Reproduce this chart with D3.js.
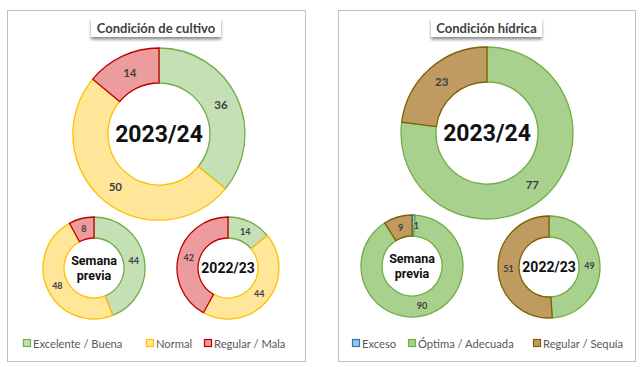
<!DOCTYPE html>
<html>
<head>
<meta charset="utf-8">
<script src="https://cdn.jsdelivr.net/npm/d3@7"></script>
<style>
  body { margin: 0; background: #fff; }
  svg { display: block; }
</style>
</head>
<body>
<div id="container"></div>
<script>
/* CONSTANTS AND GLOBALS */
const width = 640,
  height = 367;

/* DATA */
const cultivoCats = ["Excelente / Buena", "Normal", "Regular / Mala"];
const cultivoActual = [36, 50, 14];
const cultivoPrevia = [44, 48, 8];
const cultivoAnterior = [14, 44, 42];

const hidricaCats = ["Exceso", "Óptima / Adecuada", "Regular / Sequía"];
const hidricaActual = [0, 77, 23];
const hidricaPrevia = [1, 90, 9];
const hidricaAnterior = [0, 49, 51];

const cultivoFill = ["#c5e0b4", "#ffe699", "#ec9c9c"];
const cultivoStroke = ["#70ad47", "#ffc000", "#c00000"];
const hidricaFill = ["#9dc3e6", "#a9d18e", "#bf9b62"];
const hidricaStroke = ["#2e75b6", "#70ad47", "#7f6000"];

const svg = d3.select("#container")
  .append("svg")
  .attr("width", width)
  .attr("height", height)

const defs = svg.append("defs")
defs.append("filter")
  .attr("id", "shadow")
  .attr("x", "-20%").attr("y", "-30%").attr("width", "140%").attr("height", "180%")
  .append("feDropShadow")
  .attr("dx", 0).attr("dy", 2.5).attr("stdDeviation", 1.5)
  .attr("flood-color", "#000").attr("flood-opacity", 0.45)

const pie = d3.pie().sort(null).value(d => d)

function donut(g, values, fills, strokes, cx, cy, rOut, rIn, opts) {
  const arc = d3.arc().innerRadius(rIn).outerRadius(rOut)
  const mid = d3.arc().innerRadius((rIn + rOut) / 2).outerRadius((rIn + rOut) / 2)
  const dg = g.append("g").attr("transform", `translate(${cx},${cy})`)
  const arcs = pie(values)
  dg.selectAll("path")
    .data(arcs.filter(d => d.value > 0))
    .join("path")
    .attr("d", arc)
    .attr("fill", d => fills[d.index])
    .attr("stroke", d => strokes[d.index])
    .attr("stroke-width", 1.3)
  dg.selectAll("text.val")
    .data(arcs.filter(d => d.value > 0))
    .join("text")
    .attr("class", "val")
    .attr("transform", d => {
      const [x, y] = mid.centroid(d)
      return `translate(${x + (d.value < 3 ? 3 : 0)},${y})`
    })
    .attr("text-anchor", "middle")
    .attr("dominant-baseline", "central")
    .attr("font-family", "Lato, sans-serif")
    .attr("font-weight", "bold")
    .attr("font-size", opts.valSize)
    .attr("fill", "#404040")
    .text(d => d.value)
  const lines = opts.center
  const t = dg.append("text")
    .attr("text-anchor", "middle")
    .attr("font-family", "Roboto, sans-serif")
    .attr("font-weight", "bold")
    .attr("font-size", opts.centerSize)
    .attr("fill", "#111")
  lines.forEach((l, i) => {
    t.append("tspan")
      .attr("x", 0)
      .attr("y", (i - (lines.length - 1) / 2) * opts.lineH)
      .attr("dominant-baseline", "central")
      .text(l)
  })
}

function panel(x0, x1, title, titleW, cats, series, fills, strokes, centers, legendXs) {
  const g = svg.append("g")
  g.append("rect")
    .attr("x", x0 + 0.5).attr("y", 10.5)
    .attr("width", x1 - x0).attr("height", 351)
    .attr("fill", "#fff").attr("stroke", "#bfbfbf")
  const mx = (x0 + x1) / 2
  g.append("rect")
    .attr("x", mx - titleW / 2).attr("y", 18)
    .attr("width", titleW).attr("height", 19)
    .attr("fill", "#fff")
    .attr("filter", "url(#shadow)")
  g.append("text")
    .attr("x", mx).attr("y", 27.5)
    .attr("text-anchor", "middle")
    .attr("dominant-baseline", "central")
    .attr("font-family", "Lato, sans-serif")
    .attr("font-weight", "bold")
    .attr("font-size", 13)
    .attr("fill", "#404040")
    .text(title)

  donut(g, series[0], fills, strokes, centers[0][0], centers[0][1], 86, 51,
    { center: ["2023/24"], centerSize: 23, lineH: 0, valSize: 11.5 })
  donut(g, series[1], fills, strokes, centers[1][0], centers[1][1], 51, 30,
    { center: ["Semana", "previa"], centerSize: 12.5, lineH: 15, valSize: 9 })
  donut(g, series[2], fills, strokes, centers[2][0], centers[2][1], 51, 30,
    { center: ["2022/23"], centerSize: 14, lineH: 0, valSize: 9 })

  const lg = g.selectAll("g.leg")
    .data(cats)
    .join("g")
    .attr("class", "leg")
    .attr("transform", (d, i) => `translate(${legendXs[i]},343)`)
  lg.append("rect")
    .attr("x", 0.5).attr("y", -3.5)
    .attr("width", 7).attr("height", 7)
    .attr("fill", (d, i) => fills[i])
    .attr("stroke", (d, i) => strokes[i])
    .attr("stroke-width", 1.2)
  lg.append("text")
    .attr("x", 10).attr("y", 0)
    .attr("dominant-baseline", "central")
    .attr("font-family", "Lato, sans-serif")
    .attr("font-size", 11.2)
    .attr("fill", "#595959")
    .text(d => d)
}

panel(7, 305, "Condición  de cultivo", 130, cultivoCats,
  [cultivoActual, cultivoPrevia, cultivoAnterior], cultivoFill, cultivoStroke,
  [[159, 134], [94, 268], [228, 268]], [23, 146, 204])

panel(338, 635, "Condición  hídrica", 111, hidricaCats,
  [hidricaActual, hidricaPrevia, hidricaAnterior], hidricaFill, hidricaStroke,
  [[487, 133], [412, 266], [549, 267]], [352, 408, 533])
</script>
</body>
</html>
